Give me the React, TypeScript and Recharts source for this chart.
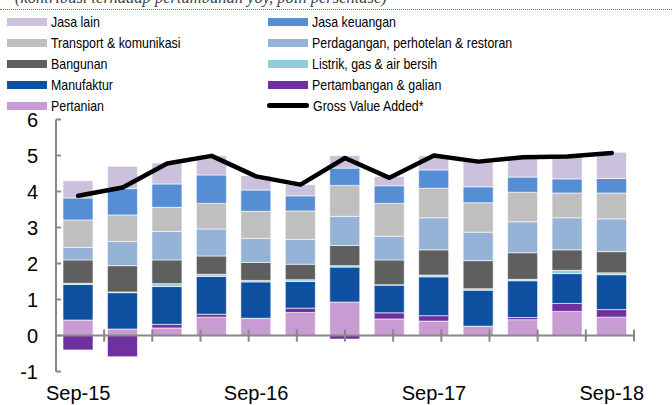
import { ComposedChart, Bar, Line, XAxis, YAxis, ReferenceLine, Legend } from 'recharts';

const categories = ['Sep-15', 'Dec-15', 'Mar-16', 'Jun-16', 'Sep-16', 'Dec-16', 'Mar-17', 'Jun-17', 'Sep-17', 'Dec-17', 'Mar-18', 'Jun-18', 'Sep-18'];

const pertanian = [0.43, 0.18, 0.21, 0.51, 0.47, 0.64, 0.93, 0.46, 0.40, 0.25, 0.44, 0.67, 0.51];
const pertambangan = [-0.40, -0.59, 0.10, 0.08, 0.01, 0.12, -0.10, 0.17, 0.15, 0.01, 0.06, 0.22, 0.21];
const manufaktur = [0.99, 1.01, 1.05, 1.05, 1.01, 0.74, 0.97, 0.77, 1.08, 1.00, 1.02, 0.83, 0.97];
const listrik = [0.03, 0.02, 0.08, 0.06, 0.04, 0.05, 0.04, 0.01, 0.05, 0.04, 0.04, 0.09, 0.05];
const bangunan = [0.65, 0.73, 0.66, 0.51, 0.50, 0.43, 0.56, 0.69, 0.70, 0.78, 0.74, 0.57, 0.59];
const perdagangan = [0.35, 0.67, 0.79, 0.75, 0.67, 0.69, 0.81, 0.66, 0.89, 0.79, 0.86, 0.89, 0.91];
const transport = [0.76, 0.74, 0.67, 0.71, 0.75, 0.79, 0.86, 0.91, 0.82, 0.82, 0.82, 0.69, 0.72];
const jasaKeuangan = [0.61, 0.73, 0.65, 0.79, 0.59, 0.42, 0.48, 0.49, 0.51, 0.44, 0.42, 0.39, 0.40];
const jasaLain = [0.48, 0.62, 0.58, 0.53, 0.40, 0.31, 0.35, 0.26, 0.39, 0.71, 0.53, 0.64, 0.73];
const gva = [3.88, 4.11, 4.78, 4.99, 4.42, 4.19, 4.93, 4.38, 5.00, 4.83, 4.95, 4.97, 5.07];

const yTicks = [-1, 0, 1, 2, 3, 4, 5, 6];

// stacking order, bottom to top
const series = [
  { key: 'pertanian', name: 'Pertanian', color: '#c89bd3', values: pertanian },
  { key: 'pertambangan', name: 'Pertambangan & galian', color: '#7030a0', values: pertambangan },
  { key: 'manufaktur', name: 'Manufaktur', color: '#0e4fa0', values: manufaktur },
  { key: 'listrik', name: 'Listrik,  gas & air bersih', color: '#93cddd', values: listrik },
  { key: 'bangunan', name: 'Bangunan', color: '#5f5f5f', values: bangunan },
  { key: 'perdagangan', name: 'Perdagangan, perhotelan & restoran', color: '#95b3d7', values: perdagangan },
  { key: 'transport', name: 'Transport & komunikasi', color: '#bfbfbf', values: transport },
  { key: 'jasaKeuangan', name: 'Jasa keuangan', color: '#558ed5', values: jasaKeuangan },
  { key: 'jasaLain', name: 'Jasa lain', color: '#ccc1dc', values: jasaLain },
];

const data = categories.map((name, i) => {
  const row: Record<string, number | string> = { name, gva: gva[i] };
  series.forEach((s) => {
    row[s.key] = s.values[i];
  });
  return row;
});

// category boundaries for the small ticks on the zero line
const boundaries = categories.map((_, i) => i + 1);

const legendLeft = ['jasaLain', 'transport', 'bangunan', 'manufaktur', 'pertanian'];
const legendRight = ['jasaKeuangan', 'perdagangan', 'listrik', 'pertambangan'];

const axisGrey = '#888888';

const LegendItem = ({ label, color, line }: { label: string; color: string; line?: boolean }) => (
  <div style={{ display: 'flex', alignItems: 'center', height: 21 }}>
    {line ? (
      <div style={{ width: 42, height: 5, borderRadius: 3, background: '#000', marginLeft: -1, marginRight: 4 }} />
    ) : (
      <div style={{ width: 40, height: 8, background: color, marginRight: 4 }} />
    )}
    <span
      style={{
        display: 'inline-block',
        fontFamily: "'Liberation Sans', Arial, sans-serif",
        fontSize: 15,
        color: '#000',
        whiteSpace: 'nowrap',
        transform: 'scaleX(0.825)',
        transformOrigin: 'left center',
      }}
    >
      {label}
    </span>
  </div>
);

const CustomLegend = () => {
  const find = (k: string) => series.find((s) => s.key === k)!;
  return (
    <div style={{ position: 'relative', height: 105 }}>
      <div style={{ position: 'absolute', left: 7, top: 0 }}>
        {legendLeft.map((k) => (
          <LegendItem key={k} label={find(k).name} color={find(k).color} />
        ))}
      </div>
      <div style={{ position: 'absolute', left: 268, top: 0 }}>
        {legendRight.map((k) => (
          <LegendItem key={k} label={find(k).name} color={find(k).color} />
        ))}
        <LegendItem label="Gross Value Added*" color="#000" line />
      </div>
    </div>
  );
};

const YTick = (props: any) => {
  const { x, y, payload } = props;
  return (
    <g>
      <line x1={x} x2={x + 5} y1={y} y2={y} stroke={axisGrey} strokeWidth={2} />
      <text x={x - 18} y={y} dy="0.36em" textAnchor="end" fontSize={20} fill="#000" fontFamily="'Liberation Sans', Arial, sans-serif">
        {payload.value}
      </text>
    </g>
  );
};

const XTick = (props: any) => {
  const { x, y, payload } = props;
  return (
    <text x={x} y={y} dy="0.72em" textAnchor="middle" fontSize={20} fill="#000" fontFamily="'Liberation Sans', Arial, sans-serif">
      {payload.value}
    </text>
  );
};

export default function App() {
  return (
    <div style={{ position: 'absolute', left: 0, top: 0, width: 672, height: 405, overflow: 'hidden', background: '#fff' }}>
      <div
        style={{
          position: 'absolute',
          left: 15,
          top: -12,
          fontFamily: "'Liberation Serif', serif",
          fontStyle: 'italic',
          fontSize: 16.5,
          color: '#404040',
          whiteSpace: 'nowrap',
          lineHeight: '20px',
        }}
      >
        (kontribusi terhadap pertumbuhan yoy, poin persentase)
      </div>
      <div style={{ position: 'absolute', left: 0, top: 9, width: 672, borderTop: '1.5px dotted #4a78c2' }} />
      <ComposedChart
        width={672}
        height={405}
        data={data}
        stackOffset="sign"
        margin={{ top: 119.5, right: 38, bottom: 0, left: 0 }}
      >
        <Legend
          layout="horizontal"
          verticalAlign="middle"
          align="center"
          wrapperStyle={{ top: 11, left: 0, width: 672 }}
          content={() => <CustomLegend />}
        />
        <XAxis
          dataKey="name"
          interval={3}
          height={33.5}
          axisLine={false}
          tickLine={false}
          tickSize={0}
          tickMargin={14}
          tick={<XTick />}
        />
        <XAxis xAxisId="edge" type="number" domain={[0, categories.length]} hide allowDataOverflow />
        <YAxis
          domain={[-1, 6]}
          ticks={yTicks}
          width={56}
          tickLine={false}
          tickSize={0}
          tickMargin={0}
          axisLine={{ stroke: axisGrey, strokeWidth: 2 }}
          tick={<YTick />}
          allowDataOverflow
        />
        {series.map((s) => (
          <Bar
            key={s.key}
            dataKey={s.key}
            name={s.name}
            stackId="a"
            fill={s.color}
            stroke="#ffffff"
            strokeWidth={0.6}
            barSize={30}
            isAnimationActive={false}
          />
        ))}
        <ReferenceLine y={0} stroke={axisGrey} strokeWidth={2} />
        {boundaries.map((b) => (
          <ReferenceLine
            key={b}
            xAxisId="edge"
            segment={[{ x: b, y: -0.17 }, { x: b, y: 0.17 }]}
            stroke={axisGrey}
            strokeWidth={2}
          />
        ))}
        <Line
          type="linear"
          dataKey="gva"
          name="Gross Value Added*"
          stroke="#000000"
          strokeWidth={4.5}
          strokeLinecap="round"
          strokeLinejoin="round"
          dot={false}
          isAnimationActive={false}
        />
      </ComposedChart>
    </div>
  );
}
